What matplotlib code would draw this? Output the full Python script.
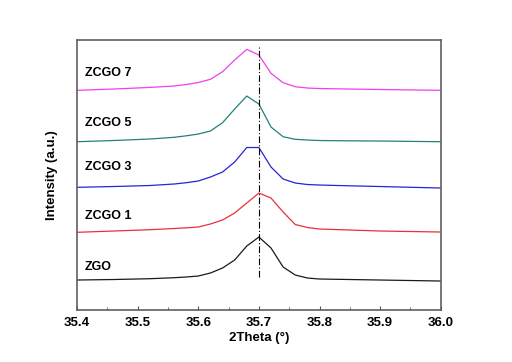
import numpy as np
import matplotlib
matplotlib.use("Agg")
import matplotlib.pyplot as plt
from matplotlib.ticker import MultipleLocator

plt.rcParams['font.family'] = ['Liberation Sans', 'DejaVu Sans']

two_theta = [35.40, 35.46, 35.52, 35.56, 35.58, 35.60, 35.62, 35.64, 35.66, 35.68, 35.70,
             35.72, 35.74, 35.76, 35.78, 35.80, 35.85, 35.90, 36.00]

zgo = [30, 30.5, 31.3, 32.3, 33, 34, 37, 42, 50, 64, 73, 62, 43, 35, 32, 31, 30.5, 30, 29]
zcgo1 = [77.7, 79, 80.3, 81.5, 82.2, 83, 86, 90, 97, 107, 117, 112, 98, 85.5, 82.5, 81, 80, 79, 78]
zcgo3 = [122.7, 123.5, 124.5, 126, 127.3, 129, 133, 138, 148, 162.5, 162.5, 143, 131, 127, 125.5, 125, 124.2, 123.5, 122]
zcgo5 = [168.3, 169.5, 171, 172.7, 174.2, 176, 179, 187.3, 201, 214, 206, 183, 173.3, 170.7, 170, 169.5, 169.2, 169, 168.3]
zcgo7 = [219.7, 221, 222.6, 224, 225.5, 227.5, 230.7, 238.3, 250, 260.7, 255, 236.7, 227.3, 223.3, 222, 221.5, 221, 220.5, 219.7]

names = ['ZGO', 'ZCGO 1', 'ZCGO 3', 'ZCGO 5', 'ZCGO 7']
series = [zgo, zcgo1, zcgo3, zcgo5, zcgo7]
colors = ['#1a1a1a', '#e8303c', '#2424d8', '#23807a', '#ee40ee']
label_y = [43, 94, 143, 187, 237]

fig = plt.figure(figsize=(5.12, 3.62), dpi=100)
ax = fig.add_axes([0.1504, 0.1436, 0.7105, 0.7472])

for ys, c in zip(series, colors):
    ax.plot(two_theta, ys, color=c, lw=0.9)

for name, yl in zip(names, label_y):
    ax.text(35.413, yl, name, fontsize=9, fontweight='bold', va='center', ha='left')

# reference position of the peak
ax.plot([35.7, 35.7], [33, 265], color='black', lw=0.8, linestyle=(0, (6, 2, 1, 2)))

ax.set_xlim(35.4, 36.0)
ax.set_ylim(0, 270.5)
ax.xaxis.set_major_locator(MultipleLocator(0.1))
ax.xaxis.set_minor_locator(MultipleLocator(0.05))
ax.xaxis.set_major_formatter(matplotlib.ticker.FormatStrFormatter('%.1f'))
ax.tick_params(axis='x', which='major', direction='in', length=3, width=0.8,
               labelsize=9.5, pad=5, colors='#555555', labelcolor='black')
ax.tick_params(axis='x', which='minor', direction='in', length=2, width=0.6, colors='#555555')
for lab in ax.get_xticklabels():
    lab.set_fontweight('bold')
ax.set_yticks([])
for s in ax.spines.values():
    s.set_color('#606060')
    s.set_linewidth(1.2)

ax.set_xlabel('2Theta (°)', fontsize=9.5, fontweight='bold', labelpad=2)
ax.set_ylabel('Intensity (a.u.)', fontsize=9.5, fontweight='bold', labelpad=14)

fig.savefig('out.png', dpi=100)
